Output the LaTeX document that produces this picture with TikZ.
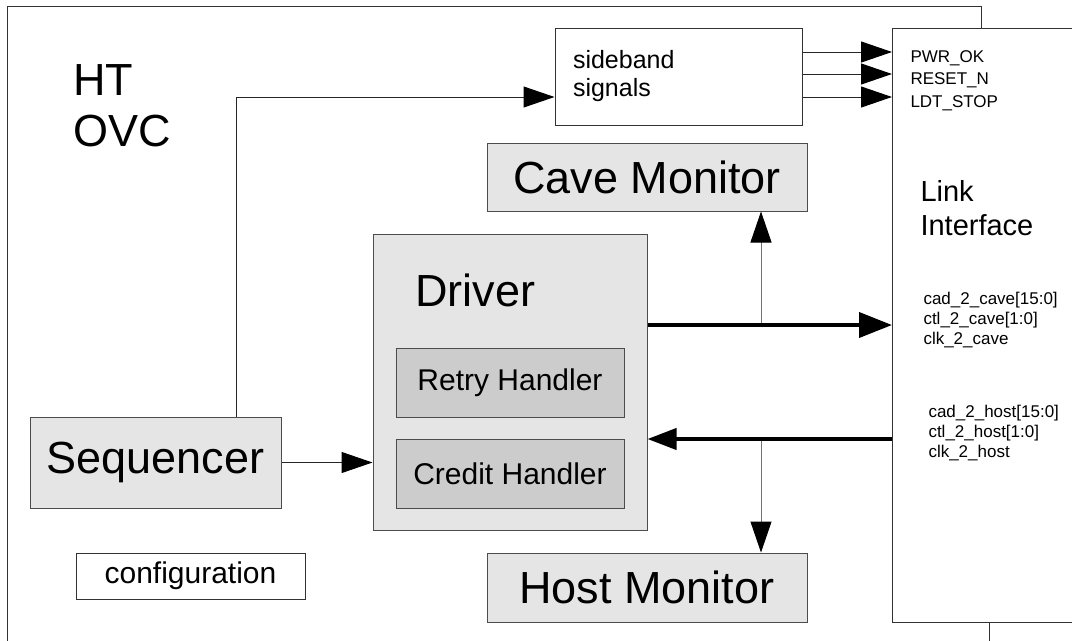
\documentclass[tikz,border=0pt]{standalone}
\usepackage{fontspec}
\setmainfont{Liberation Sans}
\usetikzlibrary{arrows.meta,positioning,calc}
\newdimen\px \px=0.75pt

\begin{document}
\begin{tikzpicture}[
    x=0.75pt, y=-0.75pt,
    line width=0.75pt,
    block/.style={rectangle, draw=black!70, fill=gray!20, inner sep=0pt, align=center},
    subblock/.style={block, fill=gray!40, font=\fontsize{30\px}{36\px}\selectfont},
    plain/.style={rectangle, draw=black!80, fill=white, inner sep=0pt},
    big/.style={font=\fontsize{45\px}{51\px}\selectfont},
    sigtext/.style={inner sep=0pt, align=left, anchor=north west},
    sig/.style={-{Triangle[length=23.25pt, width=15.75pt, color=black]}, draw=black!85},
    bus/.style={-{Triangle[length=24.75pt, width=18.75pt]}, line width=3pt}
]
    \useasboundingbox (0,0) rectangle (1072,640);

    % Outer frame
    \draw[black!80] (981,28) |- (7,6) -- (7,650);
    \draw[black!80] (989,622) -- (989,650);

    % Blocks
    \node[plain, minimum width=247\px, minimum height=97\px, text width=211\px, inner xsep=18\px,
          align=left, font=\fontsize{25\px}{28\px}\selectfont] (side) at (678.5,76.5) {sideband\\signals};
    \node[plain, minimum width=200\px, minimum height=594\px, anchor=north west] (link) at (892,28) {};
    \node[block, big, minimum width=320\px, minimum height=68\px] (cave) at (647,177) {Cave Monitor};
    \node[block, big, minimum width=320\px, minimum height=69\px] (host) at (647,587.5) {Host Monitor};
    \node[block, minimum width=274\px, minimum height=296\px] (drv) at (510,382) {};
    \node[big, inner sep=0pt, anchor=west] (drvtitle) at (415,290) {Driver};
    \node[subblock, minimum width=228\px, minimum height=69\px] (retry) at (510,382.5) {Retry Handler};
    \node[subblock, minimum width=228\px, minimum height=69\px] (credit) at (510,473.5) {Credit Handler};
    \node[block, big, minimum width=251\px, minimum height=91\px] (seq) at (155.5,462.5) {Sequencer};
    \node[plain, minimum width=229\px, minimum height=46\px,
          font=\fontsize{30\px}{36\px}\selectfont] (config) at (190.5,576) {configuration};

    % Texts
    \node[big, inner sep=0pt, align=left, anchor=west] (title) at (73,105.5) {HT\\OVC};
    \node[inner sep=0pt, align=left, anchor=west, font=\fontsize{29\px}{34\px}\selectfont]
        (linktitle) at (920,208.5) {Link\\Interface};
    \node[sigtext, font=\fontsize{17\px}{22.5\px}\selectfont] (sbnames) at (910,50)
        {PWR\_OK\\RESET\_N\\LDT\_STOP};
    \node[sigtext, font=\fontsize{17\px}{20\px}\selectfont] (cavesigs) at (923,292)
        {cad\_2\_cave[15:0]\\ctl\_2\_cave[1:0]\\clk\_2\_cave};
    \node[sigtext, font=\fontsize{17\px}{20\px}\selectfont] (hostsigs) at (928,405)
        {cad\_2\_host[15:0]\\ctl\_2\_host[1:0]\\clk\_2\_host};

    % Connectors
    \draw[sig] ($(seq.north)+(80.5,0)$) |- ($(side.west)+(0,20.5)$);
    \foreach \dy in {-24.5,-2.5,20.5}
        \draw[sig] ($(side.east)+(0,\dy)$) -- ($(link.west |- side.east)+(0,\dy)$);
    \draw[sig] (seq.east) -- (seq.east -| drv.west);

    \coordinate (cavebus) at ($(drv.east)+(0,-57)$);
    \coordinate (hostbus) at ($(drv.east)+(0,57)$);
    \coordinate (cavetap) at ($(cave.south)+(114,0)$);
    \coordinate (hosttap) at ($(host.north)+(114,0)$);
    \draw[sig, draw=black!55] (cavebus -| cavetap) -- (cavetap);
    \draw[sig, draw=black!55] (hostbus -| hosttap) -- (hosttap);
    \draw[bus] (cavebus) -- (cavebus -| link.west);
    \draw[bus, -{Triangle[length=21.75pt, width=15.75pt]}] (hostbus -| link.west) -- (hostbus);
\end{tikzpicture}
\end{document}
